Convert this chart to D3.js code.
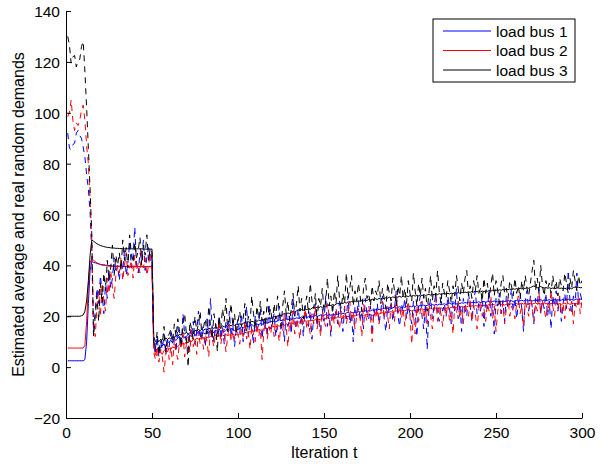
<!DOCTYPE html>
<html>
<head>
<meta charset="utf-8">
<script src="https://cdn.jsdelivr.net/npm/d3@7/dist/d3.min.js"></script>
<style>
  body { margin: 0; background: #fff; }
  svg { display: block; font-family: "Liberation Sans", Arial, Helvetica, sans-serif; }
  .axis path, .axis line { stroke: #000; }
  .axis text { fill: #000; font-size: 15.5px; }
</style>
</head>
<body>
<div id="chart"></div>
<script>
// Legend names and colours
const seriesNames = ['load bus 1', 'load bus 2', 'load bus 3'];
const seriesColors = ['#0000ff', '#ff0000', '#000000'];

// Tick labels
const xTicks = [0, 50, 100, 150, 200, 250, 300];
const yTicks = [-20, 0, 20, 40, 60, 80, 100, 120, 140];

// Estimated averages (solid), iterations 1..300
const estBus1 = [
  2.5, 2.5, 2.5, 2.5, 2.5, 2.5, 2.5, 2.5, 2.5, 2.5, 3, 10, 25, 38, 41.5, 41.2,
  41, 40.8, 40.6, 40.4, 40.3, 40.2, 40.1, 40, 39.9, 39.9, 39.8, 39.8, 39.7, 39.7,
  39.7, 39.6, 39.6, 39.6, 39.6, 39.5, 39.5, 39.5, 39.5, 39.5, 39.5, 39.5, 39.5, 39.5, 39.5, 39.5, 39.5, 39.5, 39.5, 39.5,
  10, 6.5, 7, 8, 7.5, 8.5, 9, 8, 9.5, 10,
  10.5, 9.5, 11, 10.5, 11.5, 12, 11, 12.5, 11.5, 12, 13, 12.5, 12, 13.5, 12.5, 13, 14, 13, 13.5, 13.4,
  13, 14, 13.5, 14.5, 14, 13.5, 14.5, 14, 15, 14, 14.5, 13.8, 14.5, 15, 14.5, 15.2, 14.8, 14.3, 15, 14.8,
  15.2, 15.8, 15.3, 16, 16.4, 15.9, 16.3, 16.8, 16.2, 16.5, 17, 16.6, 17.2, 16.8, 17.3, 17.7, 17.2, 17.6, 18, 17.8,
  18.2, 17.8, 18.3, 18.6, 18.2, 18.7, 18.4, 19, 18.6, 19.1, 18.8, 19.3, 19, 19.4, 19.2, 19.3, 19.7, 19.4, 19.8, 19.5,
  19.8, 20.1, 19.7, 20, 20.3, 19.9, 20.2, 20.5, 20.1, 20.4, 20.7, 20.3, 20.6, 20.4, 20.8, 20.6, 21, 20.7, 21.1, 20.9,
  21.2, 20.9, 21.3, 21.6, 21.2, 21.5, 21.3, 21.7, 21.5, 21.9, 21.6, 22, 21.8, 22.2, 21.9, 22.3, 22.1, 22.5, 22.2, 22.6,
  22.4, 22.8, 22.5, 22.9, 23.2, 22.8, 23.1, 23.4, 23, 23.3, 23.6, 23.2, 23.5, 23.8, 23.4, 23.7, 23.5, 23.9, 23.6, 24,
  23.7, 24.1, 23.8, 24.2, 23.9, 24.3, 24, 24.4, 24.1, 24.3, 24.5, 24.2, 24.6, 24.3, 24.7, 24.4, 24.8, 24.5, 24.7, 24.9,
  24.6, 24.9, 25.1, 24.8, 25, 25.3, 24.9, 25.2, 25, 25.3, 25.1, 25.4, 25.2, 25.5, 25.2, 25.4, 25.6, 25.3, 25.5, 25.7,
  25.4, 25.6, 25.8, 25.5, 25.7, 25.9, 25.6, 25.8, 26, 25.7, 25.9, 25.6, 25.8, 26.1, 25.8, 26, 26.2, 25.9, 26.1, 25.8,
  26, 26.2, 25.9, 26.1, 26.3, 26, 26.2, 26.4, 26.1, 26.3, 26, 26.2, 26.4, 26.1, 26.3, 26.5, 26.2, 26.4, 26.1, 26.3,
  26.5, 26.2, 26.4, 26.6, 26.3, 26.5, 26.2, 26.4, 26.6, 26.3, 26.5, 26.7, 26.4, 26.6, 26.3, 26.5, 26.8, 26.5, 26.7, 26.6
];
const estBus2 = [
  7.5, 7.5, 7.5, 7.5, 7.5, 7.5, 7.5, 7.5, 7.5, 7.5, 8.5, 18, 32, 41, 42.5, 42,
  41.5, 41, 40.6, 40.3, 40.1, 40, 39.9, 39.8, 39.7, 39.7, 39.6, 39.6, 39.6, 39.5,
  39.5, 39.5, 39.5, 39.5, 39.5, 39.5, 39.5, 39.5, 39.5, 39.5, 39.5, 39.5, 39.5, 39.5, 39.5, 39.5, 39.5, 39.5, 39.5, 39.5,
  8, 5, 4.5, 5.5, 6, 5, 6.5, 7, 6, 7.5,
  7, 8, 7.5, 8.5, 8, 9, 8.5, 9.5, 9, 10, 9.5, 10.5, 10, 11, 10.5, 11.5, 11, 11.2, 11.8, 11.4,
  11.2, 11.8, 11.5, 12.2, 11.8, 12, 12.5, 12.1, 12.4, 12, 12.6, 12.3, 12.8, 12.4, 12.7, 12.5, 13, 12.6, 12.9, 12.6,
  13, 13.4, 13.1, 13.7, 13.5, 14, 13.8, 14.3, 14.1, 14.6, 14.3, 14.8, 14.6, 14.5, 15, 15.3, 15.1, 15.6, 15.4, 15.8,
  16, 15.8, 16.3, 16.1, 16.5, 16.8, 16.5, 17, 16.7, 17.1, 17.4, 17.1, 17.5, 17.3, 17.7, 17.8, 18, 17.8, 18.2, 18,
  18.3, 18.1, 18.5, 18.3, 18.7, 18.5, 18.8, 18.6, 19, 18.8, 19.1, 19.3, 19.1, 19.4, 19.2, 19.5, 19.3, 19.7, 19.5, 19.8,
  19.6, 19.9, 20.1, 19.8, 20.2, 20, 20.3, 20.1, 20.4, 20.6, 20.3, 20.5, 20.2, 20.6, 20.8, 20.5, 20.7, 20.3, 20.6, 20.9,
  21.1, 20.8, 21.2, 21.4, 21.1, 21.5, 21.3, 21.6, 21.8, 21.5, 21.9, 22.1, 21.8, 22.2, 22, 22.3, 22.1, 22.4, 22.6, 22.3,
  22.1, 22.4, 22.2, 22.6, 22.4, 22.7, 22.9, 22.6, 22.8, 22.5, 22.9, 23.1, 22.8, 23, 23.2, 22.9, 23.1, 23.3, 23, 23.2,
  23.1, 23.4, 23.2, 23.5, 23.3, 23.6, 23.4, 23.7, 23.5, 23.8, 23.6, 23.9, 23.7, 24, 23.8, 24.1, 23.9, 24.2, 24, 24.3,
  24.1, 24.4, 24.2, 24.5, 24.3, 24.6, 24.4, 24.7, 24.5, 24.3, 24.6, 24.8, 24.5, 24.7, 24.4, 24.6, 24.9, 24.7, 24.9, 24.6,
  24.8, 25, 24.7, 24.9, 25.1, 24.8, 25, 24.7, 24.9, 25.1, 24.8, 25, 25.2, 24.9, 25.1, 24.8, 25, 25.2, 24.9, 25.1,
  24.8, 25, 25.2, 24.9, 25.1, 24.8, 25, 24.7, 24.9, 25.1, 24.8, 25, 24.7, 24.9, 25.1, 24.8, 25, 24.7, 24.9, 25
];
const estBus3 = [
  20, 20, 20, 20, 20, 20, 20, 20, 20.2, 20.5, 22, 26, 34, 44, 50, 49.5,
  49, 48.5, 48.1, 47.8, 47.6, 47.4, 47.2, 47.1, 47, 46.9, 46.8, 46.8, 46.7, 46.7,
  46.6, 46.6, 46.6, 46.5, 46.5, 46.5, 46.5, 46.5, 46.5, 46.5, 46.5, 46.5, 46.5, 46.5, 46.4, 46.4, 46.4, 46.4, 46.4, 46.4,
  12, 10, 9.5, 10.5, 10, 11, 10.5, 11.5, 10.8, 11.5,
  11, 12, 11.5, 12.5, 12, 13, 12.5, 13.5, 13, 13.8, 13, 13.5, 14, 13.5, 14.5, 14, 14.8, 14.3, 15, 14.5,
  15, 14.6, 15.3, 15, 15.6, 15.2, 15.8, 15.4, 16, 15.6, 16.2, 15.8, 16.4, 16, 16.6, 16.2, 16.8, 16.4, 16.9, 16.6,
  17, 16.7, 17.2, 17.6, 17.3, 17.8, 17.5, 18, 17.8, 18.3, 18, 18.5, 18.3, 18.8, 18.6, 19, 18.8, 19.3, 19.1, 19.6,
  19.9, 19.6, 20.1, 20.5, 20.2, 20.7, 21.1, 20.8, 21.3, 21.1, 21.6, 21.9, 21.6, 22.1, 22.5, 22.2, 22.6, 22.4, 22.8, 22.6,
  23, 22.7, 23.2, 23.5, 23.2, 23.6, 23.3, 23.8, 23.5, 24, 23.7, 24.2, 24.5, 24.2, 24.6, 24.3, 24.8, 25.1, 24.8, 25.2,
  25, 25.4, 25.2, 25.7, 25.4, 25.8, 25.6, 26, 25.7, 26.1, 25.9, 26.3, 26, 26.4, 26.2, 26.6, 26.3, 26.7, 26.5, 26.9,
  26.6, 27, 26.8, 27.2, 26.9, 27.3, 27.1, 27.5, 27.2, 27.6, 27.4, 27.2, 27.6, 27.8, 27.5, 27.9, 27.6, 28, 27.7, 28.1,
  27.8, 28.2, 27.9, 28.3, 28, 28.4, 28.1, 28.5, 28.2, 28.4, 28.6, 28.3, 28.7, 28.4, 28.8, 28.5, 28.9, 28.6, 28.8, 29,
  28.7, 29, 28.8, 29.1, 28.9, 29.2, 29, 29.3, 29.1, 29.4, 29.2, 29.5, 29.3, 29.6, 29.4, 29.7, 29.5, 29.8, 29.6, 29.9,
  29.6, 29.9, 29.7, 30, 29.8, 30.1, 29.9, 30.2, 30, 30.3, 30.1, 30.4, 30.2, 30.5, 30.3, 30.6, 30.4, 30.7, 30.5, 30.8,
  30.6, 30.9, 30.7, 31, 30.8, 31.1, 30.9, 31.2, 31, 31.3, 31.6, 31.9, 31.5, 31.2, 31.4, 31.7, 31.3, 31.1, 31.3, 31,
  31.2, 30.9, 31.1, 30.8, 31, 31.2, 30.9, 31.1, 30.8, 31, 30.7, 30.9, 31.1, 30.8, 31.3, 31.5, 31.1, 31.4, 31.2, 31.3
];

// Real random demands (dashed), iterations 1..300
const realBus1 = [
  92, 86, 85.5, 87.5, 88, 92, 93, 91, 90, 86.5, 82.5, 75.5, 70, 61,
  44, 14, 22, 31, 25, 36, 29, 21, 33, 27, 38, 31, 35, 43, 37, 40,
  34, 42, 38, 46, 36, 41, 49, 39, 44, 55, 40, 37, 45, 42, 50, 38, 43, 47, 41, 44,
  9, 6, 12, 4, 10, 7, 13, 5, 11, 8,
  14, 9, 12, 6, 16, 11, 8, 21, 13, 10, 7, 15, 12, 18, 9, 14, 22, 11, 16, 13,
  8, 19, 12, 27, 15, 10, 17, 13, 20, 11, 16, 9, 18, 14, 22, 12, 17, 8, 15, 19,
  13, 21, 10, 16, 24, 12, 18, 15, 9, 20, 14, 17, 23, 11, 19, 16, 13, 25, 15, 18,
  21, 12, 17, 24, 14, 19, 10, 22, 16, 20, 13, 27, 18, 15, 23, 17, 20, 12, 24, 19,
  16, 22, 11, 20, 25, 17, 19, 14, 23, 18, 28, 16, 21, 12, 24, 19, 22, 17, 26, 20,
  14, 23, 19, 28, 17, 21, 10, 24, 20, 26, 18, 22, 15, 27, 21, 19, 24, 13, 23, 20,
  25, 17, 22, 28, 19, 14, 24, 21, 26, 18, 23, 30, 20, 16, 25, 22, 27, 19, 24, 21,
  17, 26, 22, 12, 24, 28, 20, 15, 25, 7, 23, 27, 19, 24, 29, 21, 18, 26, 22, 25,
  20, 28, 23, 17, 26, 22, 31, 19, 25, 14, 27, 23, 20, 29, 24, 18, 26, 30, 21, 25,
  22, 28, 16, 26, 23, 30, 20, 25, 13, 27, 24, 29, 21, 26, 18, 28, 23, 25, 31, 22,
  27, 19, 25, 29, 23, 14, 26, 30, 22, 28, 24, 17, 27, 25, 31, 21, 26, 23, 29, 20,
  26, 15, 28, 24, 30, 22, 27, 18, 25, 29, 23, 38, 26, 21, 28, 24, 37, 25, 29, 26
];
const realBus2 = [
  98.5, 100, 105, 97, 93, 96, 95, 97, 101, 103, 97, 87, 80, 66,
  50, 18, 12, 24, 30, 20, 33, 26, 22, 35, 29, 38, 31, 27, 36, 40,
  37, 43, 34, 40, 45, 36, 39, 42, 35, 44, 38, 41, 37, 46, 39, 43, 36, 40, 45, 38,
  6, 3, 8, 2, 7, 4, -2, 5, 9, 3,
  8, 1, 11, 6, 3, 10, 7, 13, 4, 9, 12, 6, 15, 8, 11, 5, 14, 9, 12, 7,
  13, 10, 4, 16, 11, 8, 14, 12, 18, 9, 13, 15, 6, 12, 17, 10, 14, 11, 16, 13,
  9, 15, 12, 18, 11, 14, 7, 16, 13, 10, 17, 12, 15, 3, 14, 19, 11, 16, 13, 18,
  12, 20, 15, 10, 17, 14, 21, 16, 8, 18, 15, 22, 13, 19, 16, 11, 20, 17, 23, 15,
  18, 13, 21, 17, 24, 15, 19, 12, 22, 18, 16, 25, 20, 14, 21, 17, 23, 19, 15, 22,
  19, 24, 17, 21, 26, 18, 22, 15, 20, 23, 19, 12, 25, 21, 18, 24, 20, 10, 22, 19,
  23, 17, 21, 26, 19, 24, 20, 15, 25, 22, 18, 28, 21, 24, 19, 23, 16, 22, 26, 20,
  9, 21, 13, 24, 18, 22, 26, 19, 23, 17, 25, 20, 15, 22, 27, 18, 24, 21, 16, 23,
  20, 25, 18, 22, 13, 24, 21, 26, 19, 23, 17, 25, 22, 20, 27, 18, 24, 21, 15, 23,
  26, 20, 23, 18, 25, 22, 28, 19, 24, 14, 22, 26, 21, 25, 17, 23, 27, 20, 24, 22,
  19, 25, 28, 21, 24, 16, 26, 23, 20, 27, 24, 18, 25, 22, 29, 21, 26, 23, 19, 25,
  22, 30, 24, 20, 26, 23, 28, 21, 25, 19, 27, 24, 22, 26, 17, 25, 23, 28, 21, 26
];
const realBus3 = [
  130, 126.5, 119.5, 122, 122.5, 118, 120.5, 121, 126, 128, 116, 102, 86, 70,
  52, 12, 20, 28, 18, 33, 25, 37, 30, 42, 34, 39, 48, 36, 44, 40,
  45, 38, 50, 42, 47, 39, 52, 44, 41, 49, 43, 46, 51, 40, 48, 44, 52, 42, 47, 45,
  10, 7, 14, 5, 11, 9, 16, 6, 12, 13,
  15, 10, 17, 12, 19, 14, 8, 16, 21, 13, 0, 18, 15, 11, 20, 14, 17, 22, 12, 16,
  19, 13, 24, 16, 11, 21, 17, 6, 20, 15, 23, 18, 27, 14, 19, 25, 16, 21, 13, 18,
  22, 16, 19, 25, 14, 20, 17, 28, 21, 15, 24, 19, 26, 18, 22, 16, 27, 20, 23, 17,
  25, 19, 28, 22, 16, 24, 30, 21, 26, 18, 23, 29, 20, 25, 32, 22, 27, 19, 24, 28,
  21, 33, 26, 23, 29, 18, 27, 24, 31, 22, 26, 35, 24, 28, 21, 30, 25, 36, 27, 23,
  29, 25, 37, 27, 31, 36, 24, 30, 26, 33, 28, 22, 31, 35, 27, 29, 24, 32, 26, 30,
  28, 34, 25, 31, 27, 23, 33, 29, 26, 35, 30, 24, 32, 28, 36, 27, 31, 25, 34, 29,
  26, 37, 30, 24, 33, 28, 35, 27, 31, 22, 29, 36, 26, 32, 28, 38, 30, 25, 33, 29,
  27, 34, 30, 25, 32, 28, 36, 31, 26, 33, 29, 35, 38, 28, 32, 27, 34, 30, 36, 29,
  31, 26, 35, 29, 33, 27, 32, 37, 28, 34, 30, 25, 33, 36, 29, 31, 27, 34, 32, 28,
  35, 29, 32, 27, 34, 30, 36, 31, 28, 33, 38, 42, 30, 35, 29, 40, 32, 28, 34, 31,
  33, 29, 36, 31, 34, 28, 35, 32, 30, 37, 33, 29, 35, 31, 38, 34, 30, 36, 32, 34
];

const estimated = [estBus1, estBus2, estBus3];
const real = [realBus1, realBus2, realBus3];

const width = 613, height = 465;
const margin = { top: 11, right: 31, bottom: 47, left: 66 };
const innerW = width - margin.left - margin.right;
const innerH = height - margin.top - margin.bottom;

const svg = d3.select('#chart').append('svg')
  .attr('width', width)
  .attr('height', height);

const g = svg.append('g').attr('transform', `translate(${margin.left},${margin.top})`);

const x = d3.scaleLinear().domain([0, 300]).range([0, innerW]);
const y = d3.scaleLinear().domain([-20, 140]).range([innerH, 0]);

svg.append('defs').append('clipPath').attr('id', 'plot-clip')
  .append('rect').attr('width', innerW).attr('height', innerH);

const line = d3.line()
  .x((d, i) => x(i + 1))
  .y(d => y(d));

const lines = g.append('g').attr('clip-path', 'url(#plot-clip)');

// solid estimates first, then dashed demands on top
estimated.forEach((vals, k) => {
  lines.append('path')
    .datum(vals)
    .attr('fill', 'none')
    .attr('stroke', seriesColors[k])
    .attr('stroke-width', 1)
    .attr('d', line);
});
real.forEach((vals, k) => {
  lines.append('path')
    .datum(vals)
    .attr('fill', 'none')
    .attr('stroke', seriesColors[k])
    .attr('stroke-width', 1)
    .attr('stroke-dasharray', '6,5')
    .attr('d', line);
});

// axes, ticks pointing inward like MATLAB
const fmt = d => (d < 0 ? '\u2212' + Math.abs(d) : String(d));

g.append('g')
  .attr('class', 'axis')
  .attr('transform', `translate(0,${innerH})`)
  .call(d3.axisBottom(x).tickValues(xTicks).tickFormat(fmt).tickSizeInner(-5).tickSizeOuter(0).tickPadding(9));

const yAxis = g.append('g')
  .attr('class', 'axis')
  .call(d3.axisLeft(y).tickValues(yTicks).tickFormat(fmt).tickSizeInner(-5).tickSizeOuter(0).tickPadding(6));

yAxis.selectAll('text').attr('dy', '0.36em');

// axis labels
g.append('text')
  .attr('x', innerW / 2)
  .attr('y', innerH + 40)
  .attr('text-anchor', 'middle')
  .attr('font-size', 16)
  .text('Iteration t');

g.append('text')
  .attr('transform', `translate(${18 - margin.left},${innerH / 2}) rotate(-90)`)
  .attr('text-anchor', 'middle')
  .attr('dy', '0.35em')
  .attr('font-size', 16)
  .text('Estimated average and real random demands');

// legend
const legend = svg.append('g').attr('transform', 'translate(433,19)');
legend.append('rect')
  .attr('width', 142).attr('height', 63)
  .attr('fill', '#fff').attr('stroke', '#000').attr('stroke-width', 1);

seriesNames.forEach((name, k) => {
  const row = legend.append('g').attr('transform', `translate(0,${12 + k * 19.5})`);
  row.append('line')
    .attr('x1', 10).attr('x2', 58)
    .attr('stroke', seriesColors[k]).attr('stroke-width', 1);
  row.append('text')
    .attr('x', 63).attr('dy', '0.36em')
    .attr('font-size', 15.5)
    .text(name);
});
</script>
</body>
</html>
